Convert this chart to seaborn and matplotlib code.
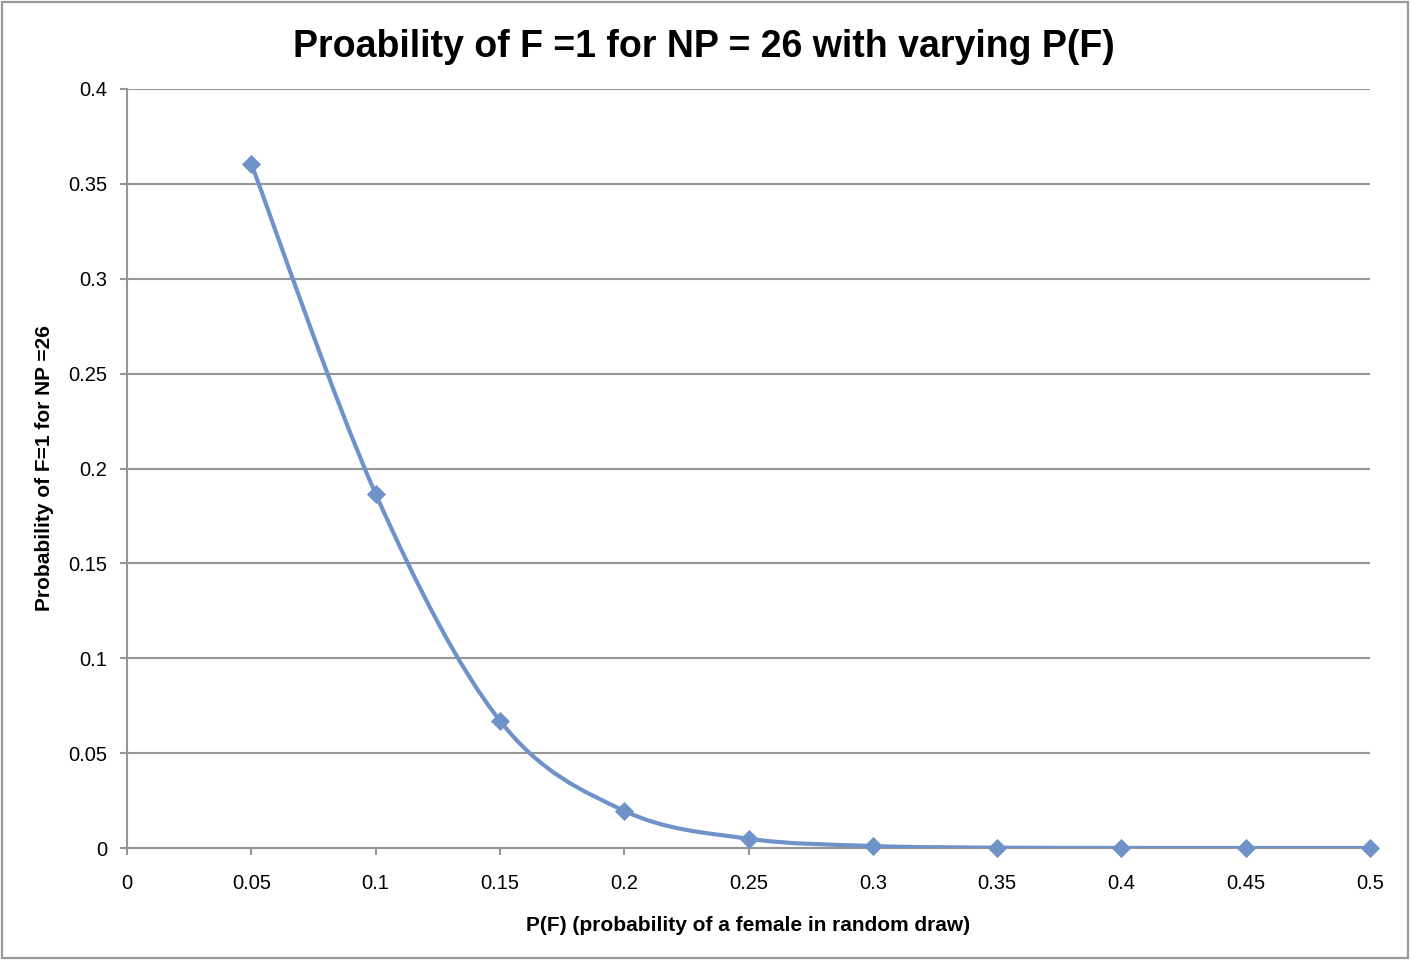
import numpy as np
import pandas as pd
import matplotlib
matplotlib.use("Agg")
import matplotlib.pyplot as plt
from matplotlib.path import Path
from matplotlib.patches import PathPatch, Rectangle
import seaborn as sns

# Data
p_female = [0.05, 0.10, 0.15, 0.20, 0.25, 0.30, 0.35, 0.40, 0.45, 0.50]
prob_f1 = [0.3606, 0.1867, 0.0671, 0.0196, 0.0049, 0.00105, 0.00019, 0.00003, 0.000004, 0.0000004]
x_ticks = [0, 0.05, 0.1, 0.15, 0.2, 0.25, 0.3, 0.35, 0.4, 0.45, 0.5]
x_tick_labels = ["0", "0.05", "0.1", "0.15", "0.2", "0.25", "0.3", "0.35", "0.4", "0.45", "0.5"]
y_ticks = [0, 0.05, 0.1, 0.15, 0.2, 0.25, 0.3, 0.35, 0.4]
y_tick_labels = ["0", "0.05", "0.1", "0.15", "0.2", "0.25", "0.3", "0.35", "0.4"]

title = "Proability of F =1 for NP = 26 with varying P(F)"
xlabel = "P(F) (probability of a female in random draw)"
ylabel = "Probability of F=1 for NP =26"

df = pd.DataFrame({"p": p_female, "prob": prob_f1})

sns.set_theme(style="white")
plt.rcParams["font.family"] = ["Liberation Sans", "DejaVu Sans"]

W, H = 1411, 961
fig = plt.figure(figsize=(W / 100, H / 100), dpi=100)
fig.patch.set_facecolor("white")
ax = fig.add_axes([127 / W, 1 - 848 / H, (1370 - 127) / W, (848 - 89) / H])

line_color = "#6f93c9"
grid_color = "#969696"

# Smoothed line (Excel-style Bezier smoothing through the data points)
pts = np.column_stack([df["p"].to_numpy(), df["prob"].to_numpy()])
n = len(pts)
verts = [tuple(pts[0])]
codes = [Path.MOVETO]
for i in range(n - 1):
    p0 = pts[i - 1] if i > 0 else pts[i]
    p1 = pts[i]
    p2 = pts[i + 1]
    p3 = pts[i + 2] if i + 2 < n else pts[i + 1]
    c1 = p1 + (p2 - p0) / 6.0
    c2 = p2 - (p3 - p1) / 6.0
    verts += [tuple(c1), tuple(c2), tuple(p2)]
    codes += [Path.CURVE4, Path.CURVE4, Path.CURVE4]
ax.add_patch(PathPatch(Path(verts, codes), facecolor="none", edgecolor=line_color,
                       lw=3.0, zorder=3, capstyle="round", joinstyle="round"))

sns.scatterplot(data=df, x="p", y="prob", marker="D", s=95, color=line_color,
                edgecolor=line_color, linewidth=0, ax=ax, zorder=4, clip_on=False)

ax.set_xlim(0, 0.5)
ax.set_ylim(0, 0.4)
ax.set_xticks(x_ticks)
ax.set_xticklabels(x_tick_labels)
ax.set_yticks(y_ticks)
ax.set_yticklabels(y_tick_labels)

ax.yaxis.grid(True, color=grid_color, lw=1.5)
ax.xaxis.grid(False)
ax.set_axisbelow(True)

for side in ["top", "right"]:
    ax.spines[side].set_visible(False)
for side in ["left", "bottom"]:
    ax.spines[side].set_color(grid_color)
    ax.spines[side].set_linewidth(1.5)

ax.tick_params(axis="both", which="major", direction="out", length=5, width=1.5,
               color=grid_color, labelsize=14.5, labelcolor="black")
ax.tick_params(axis="x", pad=14)
ax.tick_params(axis="y", pad=9)
ax.tick_params(bottom=True, left=True)

ax.set_xlabel(xlabel, fontsize=15, fontweight="bold", color="black", labelpad=16.5)
ax.set_ylabel(ylabel, fontsize=15, fontweight="bold", color="black", labelpad=10.5)

fig.text(704 / W, 1 - 47 / H, title, ha="center", va="center", fontsize=27,
         fontweight="bold", color="black")

fig.patches.append(Rectangle((1.5 / W, 1 - 958 / H), (1408 - 1.5) / W, (958 - 2) / H,
                             transform=fig.transFigure, fill=False,
                             edgecolor="#9a9a9a", lw=1.6, zorder=10))

fig.savefig("out.png", dpi=100)
